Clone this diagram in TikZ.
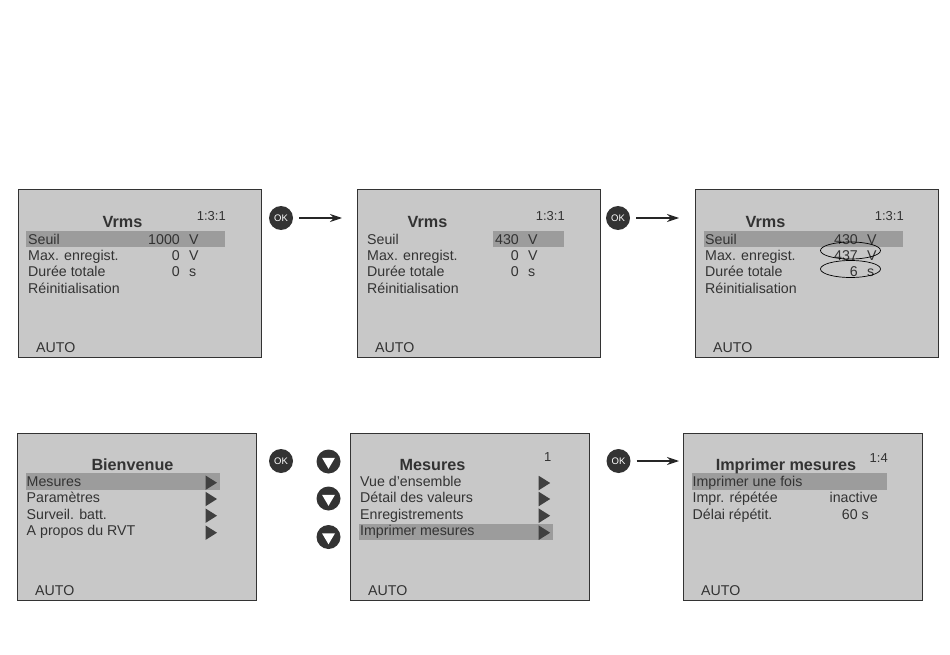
\documentclass[tikz,border=0pt]{standalone}
\usepackage{fontspec}
\setmainfont{Liberation Sans}
\usetikzlibrary{shapes.geometric, arrows.meta}
\definecolor{lcdgrey}{HTML}{C8C8C8}
\definecolor{rowgrey}{HTML}{9C9C9C}
\definecolor{inkgrey}{HTML}{333333}
\begin{document}
\begin{tikzpicture}[x=1pt, y=-1pt, font=\fontsize{14.2}{16}\selectfont, text=inkgrey,
  screen/.style = {draw=inkgrey, line width=1pt, fill=lcdgrey, minimum width=243pt, minimum height=167pt, inner sep=0pt},
  screenb/.style = {screen, minimum width=239pt},
  row/.style = {fill=rowgrey, minimum height=16.5pt, inner sep=0pt},
  lbl/.style = {anchor=base west, inner sep=0pt},
  val/.style = {anchor=base east, inner sep=0pt},
  title/.style = {anchor=base, inner sep=0pt, font=\fontsize{16.2}{17}\selectfont\bfseries},
  idx/.style = {anchor=base east, inner sep=0pt, font=\fontsize{13}{15}\selectfont},
  okbtn/.style = {circle, fill=black!80, minimum size=24pt, inner sep=0pt, text=white, font=\fontsize{9.5}{10}\selectfont},
  downbtn/.style = {circle, fill=black!80, minimum size=24pt, inner sep=0pt},
  downtip/.style = {isosceles triangle, isosceles triangle apex angle=62, isosceles triangle stretches, shape border rotate=270, fill=white, minimum height=11pt, minimum width=13pt, inner sep=0pt},
  menutip/.style = {isosceles triangle, isosceles triangle apex angle=65, isosceles triangle stretches, fill=black!75, minimum height=11.5pt, minimum width=14.5pt, inner sep=0pt},
  ring/.style = {ellipse, draw=black, line width=0.7pt, minimum width=60pt, minimum height=17pt, inner sep=0pt},
  go/.style = {-{Stealth[length=12pt, width=8pt]}, line width=1.2pt, draw=black!85, shorten <=6pt}]
\useasboundingbox (0,0) rectangle (950,655);

% top row
\node[screen] (s1) at (140.3,273.5) {};
\node[row, minimum width=199pt] (s1r) at (125.5,239) {};
\node[title] (s1t) at (122.5,227) {Vrms};
\node[idx] (s1i) at (226,220) {1:3:1};
\node[lbl] (s1a) at (28,244) {Seuil};
\node[lbl] (s1b) at (28,260.3) {Max. enregist.};
\node[lbl] (s1c) at (28,276.5) {Durée totale};
\node[lbl] (s1d) at (28,293) {Réinitialisation};
\node[val] (s1av) at (180,244) {1000};
\node[val] (s1bv) at (180,260.3) {0};
\node[val] (s1cv) at (180,276.5) {0};
\node[lbl] (s1au) at (189,244) {V};
\node[lbl] (s1bu) at (189,260.3) {V};
\node[lbl] (s1cu) at (189,276.5) {s};
\node[lbl] (s1z) at (36,352.2) {AUTO};

\node[okbtn] (ok1) at (281,218) {OK};
\coordinate (e1) at (342,218);
\draw[go] (ok1.east) -- (e1);

\node[screen] (s2) at (479.3,273.5) {};
\node[row, minimum width=71pt] (s2r) at (528.5,239) {};
\node[title] (s2t) at (427.5,227) {Vrms};
\node[idx] (s2i) at (565,220) {1:3:1};
\node[lbl] (s2a) at (367,244) {Seuil};
\node[lbl] (s2b) at (367,260.3) {Max. enregist.};
\node[lbl] (s2c) at (367,276.5) {Durée totale};
\node[lbl] (s2d) at (367,293) {Réinitialisation};
\node[val] (s2av) at (519,244) {430};
\node[val] (s2bv) at (519,260.3) {0};
\node[val] (s2cv) at (519,276.5) {0};
\node[lbl] (s2au) at (528,244) {V};
\node[lbl] (s2bu) at (528,260.3) {V};
\node[lbl] (s2cu) at (528,276.5) {s};
\node[lbl] (s2z) at (375,352.2) {AUTO};

\node[okbtn] (ok2) at (618,218) {OK};
\coordinate (e2) at (679,218);
\draw[go] (ok2.east) -- (e2);

\node[screen] (s3) at (817.3,273.5) {};
\node[row, minimum width=199pt] (s3r) at (803.5,239) {};
\node[title] (s3t) at (765.5,227) {Vrms};
\node[idx] (s3i) at (904,220) {1:3:1};
\node[lbl] (s3a) at (705,244) {Seuil};
\node[lbl] (s3b) at (705,260.3) {Max. enregist.};
\node[lbl] (s3c) at (705,276.5) {Durée totale};
\node[lbl] (s3d) at (705,293) {Réinitialisation};
\node[val] (s3av) at (858,244) {430};
\node[val] (s3bv) at (858,260.3) {437};
\node[val] (s3cv) at (858,276.5) {6};
\node[lbl] (s3au) at (867,244) {V};
\node[lbl] (s3bu) at (867,260.3) {V};
\node[lbl] (s3cu) at (867,276.5) {s};
\node[lbl] (s3z) at (713,352.2) {AUTO};
\node[ring] (r1) at (850.5,250.5) {};
\node[ring] (r2) at (850.5,269) {};

% bottom row
\node[screenb] (s4) at (137.3,516.5) {};
\node[row, minimum width=194pt] (s4r) at (122.5,481.5) {};
\node[title] (s4t) at (132.5,470.5) {Bienvenue};
\node[lbl] (s4a) at (26.5,486.5) {Mesures};
\node[lbl] (s4b) at (26.5,502.8) {Paramètres};
\node[lbl] (s4c) at (26.5,519) {Surveil. batt.};
\node[lbl] (s4d) at (26.5,535.5) {A propos du RVT};
\foreach \n/\yy in {a/482.7,b/499,c/515.7,d/532.7}
  \node[menutip] (s4m\n) at (209.5,\yy) {};
\node[lbl] (s4z) at (35,595.2) {AUTO};

\node[okbtn] (ok3) at (281,461) {OK};
\foreach \n/\yy in {a/461.5,b/498.5,c/537}
  \node[downbtn] (dn\n) at (328.5,\yy) {} node[downtip] (dt\n) at (328.5,\yy) {};

\node[screenb] (s5) at (470.3,516.5) {};
\node[row, minimum width=194pt] (s5r) at (456,532) {};
\node[title] (s5t) at (432.5,470.5) {Mesures};
\node[idx] (s5i) at (551.5,461.7) {1};
\node[lbl] (s5a) at (360,486.5) {Vue d'ensemble};
\node[lbl] (s5b) at (360,502.8) {Détail des valeurs};
\node[lbl] (s5c) at (360,519) {Enregistrements};
\node[lbl] (s5d) at (360,535.5) {Imprimer mesures};
\foreach \n/\yy in {a/483,b/499,c/515.7,d/532.7}
  \node[menutip] (s5m\n) at (542.7,\yy) {};
\node[lbl] (s5z) at (368,595.2) {AUTO};

\node[okbtn] (ok4) at (618.5,461) {OK};
\coordinate (e4) at (679,461);
\draw[go] (ok4.east) -- (e4);

\node[screenb] (s6) at (803.3,516.5) {};
\node[row, minimum width=195pt] (s6r) at (789.5,481.5) {};
\node[title] (s6t) at (786,470.5) {Imprimer mesures};
\node[idx] (s6i) at (888,462) {1:4};
\node[lbl] (s6a) at (692.5,486.5) {Imprimer une fois};
\node[lbl] (s6b) at (692.5,502.8) {Impr. répétée};
\node[lbl] (s6c) at (692.5,519) {Délai répétit.};
\node[val] (s6bv) at (878,502.8) {inactive};
\node[val] (s6cv) at (869,519) {60 s};
\node[lbl] (s6z) at (701,595.2) {AUTO};
\end{tikzpicture}
\end{document}
